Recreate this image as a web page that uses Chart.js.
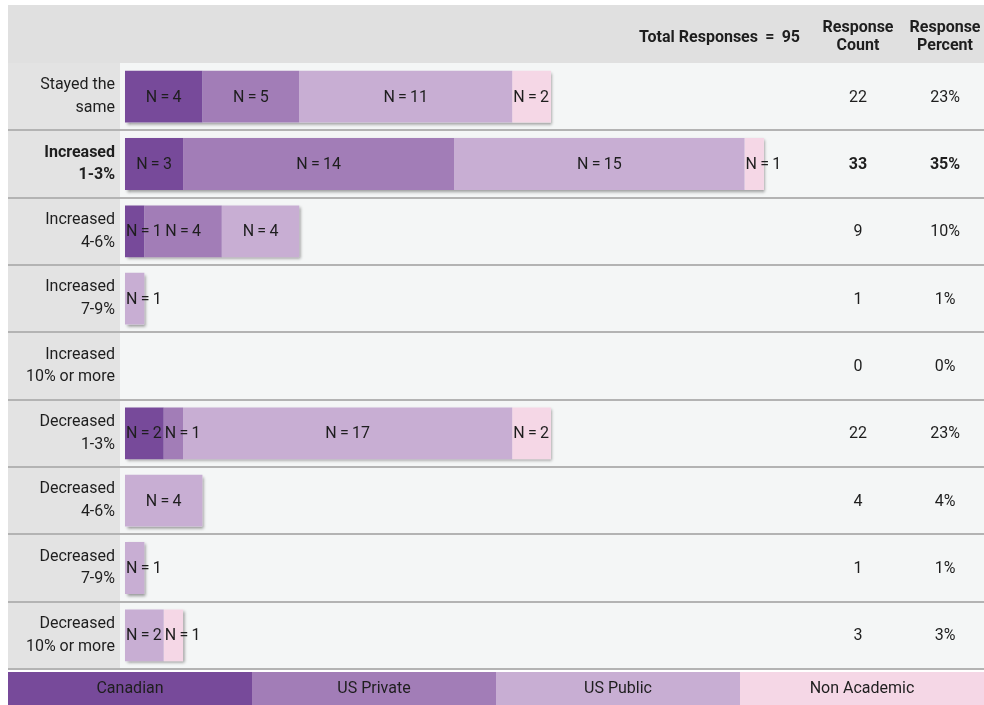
<!DOCTYPE html>
<html>
<head>
<meta charset="utf-8">
<script src="https://cdn.jsdelivr.net/npm/chart.js@4.4.1/dist/chart.umd.min.js"></script>
<style>
  body { margin: 0; background: #ffffff; }
  #wrap { width: 984px; height: 705px; position: relative; }
</style>
</head>
<body>
<div id="wrap"><canvas id="salaryChart"></canvas></div>
<script>
// Categories and series
const categories = [
    ['Stayed the', 'same'],
    ['Increased', '1-3%'],
    ['Increased', '4-6%'],
    ['Increased', '7-9%'],
    ['Increased', '10% or more'],
    ['Decreased', '1-3%'],
    ['Decreased', '4-6%'],
    ['Decreased', '7-9%'],
    ['Decreased', '10% or more']
];
const seriesNames = ['Canadian', 'US Private', 'US Public', 'Non Academic'];
const seriesColors = ['#774a9a', '#a27db7', '#c8aed3', '#f5d7e6'];
const canadian = [4, 3, 1, 0, 0, 2, 0, 0, 0];
const usPrivate = [5, 14, 4, 0, 0, 1, 0, 0, 0];
const usPublic = [11, 15, 4, 1, 0, 17, 4, 1, 2];
const nonAcademic = [2, 1, 0, 0, 0, 2, 0, 0, 1];
const responseCount = [22, 33, 9, 1, 0, 22, 4, 1, 3];
const responsePercent = ['23%', '35%', '10%', '1%', '0%', '23%', '4%', '1%', '3%'];
const totalResponses = 95;
const boldRow = 1;

const FONT = "Roboto, 'Noto Sans', sans-serif";
const SIZE = 16;
const seriesValues = [canadian, usPrivate, usPublic, nonAcademic];

// backgrounds, row lines and bar shadows
const tablePlugin = {
    id: 'tablePlugin',
    beforeDraw(chart) {
        const ctx = chart.ctx;
        const area = chart.chartArea;
        const yScale = chart.scales.y;
        ctx.save();
        ctx.fillStyle = '#e0e0e0';
        ctx.fillRect(8, 5, 976, area.top - 5);
        ctx.fillStyle = '#e3e3e3';
        ctx.fillRect(8, area.top, 112, area.bottom - area.top);
        ctx.fillStyle = '#f4f6f6';
        ctx.fillRect(120, area.top, 864, area.bottom - area.top);
        const rowH = (area.bottom - area.top) / categories.length;
        ctx.strokeStyle = '#b3b3b3';
        ctx.lineWidth = 2;
        categories.forEach((c, i) => {
            const y = Math.round(yScale.getPixelForValue(i) + rowH / 2);
            ctx.beginPath();
            ctx.moveTo(8, y);
            ctx.lineTo(984, y);
            ctx.stroke();
        });
        ctx.restore();
    },
    beforeDatasetsDraw(chart) {
        const ctx = chart.ctx;
        const xScale = chart.scales.x;
        const meta = chart.getDatasetMeta(0);
        ctx.save();
        ctx.shadowColor = 'rgba(0,0,0,0.4)';
        ctx.shadowBlur = 3;
        ctx.shadowOffsetX = 1.5;
        ctx.shadowOffsetY = 2;
        ctx.fillStyle = '#f4f6f6';
        categories.forEach((c, i) => {
            const total = seriesValues.reduce((s, arr) => s + arr[i], 0);
            if (!total) return;
            const el = meta.data[i];
            const x0 = xScale.getPixelForValue(0);
            const x1 = xScale.getPixelForValue(total);
            ctx.fillRect(x0, el.y - el.height / 2, x1 - x0, el.height);
        });
        ctx.restore();
    },
    afterDatasetsDraw(chart) {
        const ctx = chart.ctx;
        ctx.save();
        ctx.font = SIZE + 'px ' + FONT;
        ctx.fillStyle = '#1e1e1e';
        ctx.textBaseline = 'middle';
        chart.data.datasets.forEach((ds, d) => {
            const meta = chart.getDatasetMeta(d);
            meta.data.forEach((el, i) => {
                const v = ds.data[i];
                if (!v) return;
                const left = Math.min(el.x, el.base);
                const right = Math.max(el.x, el.base);
                const txt = 'N\u2009=\u2009' + v;
                const w = ctx.measureText(txt).width;
                if (right - left > w + 8) {
                    ctx.textAlign = 'center';
                    ctx.fillText(txt, (left + right) / 2, el.y + 1);
                } else {
                    ctx.textAlign = 'left';
                    ctx.fillText(txt, left + 1, el.y + 1);
                }
            });
        });
        ctx.restore();
    },
    afterDraw(chart) {
        const ctx = chart.ctx;
        const yScale = chart.scales.y;
        ctx.save();
        ctx.textBaseline = 'middle';
        ctx.fillStyle = '#1e1e1e';
        // header
        ctx.font = 'bold ' + SIZE + 'px ' + FONT;
        ctx.textAlign = 'right';
        ctx.fillText('Total Responses \u2009=\u2009 ' + totalResponses, 800, 38);
        ctx.textAlign = 'center';
        ctx.fillText('Response', 858, 28);
        ctx.fillText('Count', 858, 46);
        ctx.fillText('Response', 945, 28);
        ctx.fillText('Percent', 945, 46);
        // count / percent columns
        categories.forEach((c, i) => {
            const y = yScale.getPixelForValue(i) + 1;
            ctx.font = (i === boldRow ? 'bold ' : '') + SIZE + 'px ' + FONT;
            ctx.fillText(String(responseCount[i]), 858, y);
            ctx.fillText(responsePercent[i], 945, y);
        });
        // legend blocks
        const legTop = chart.chartArea.bottom + 3;
        const legW = (984 - 8) / seriesNames.length;
        seriesNames.forEach((name, k) => {
            ctx.fillStyle = seriesColors[k];
            ctx.fillRect(8 + k * legW, legTop, legW + 0.5, 705 - legTop);
            ctx.fillStyle = '#1e1e1e';
            ctx.font = SIZE + 'px ' + FONT;
            ctx.fillText(name, 8 + k * legW + legW / 2, legTop + 17);
        });
        ctx.restore();
    }
};

const ctx = document.getElementById('salaryChart').getContext('2d');
const salaryChart = new Chart(ctx, {
    type: 'bar',
    data: {
        labels: categories,
        datasets: seriesNames.map((name, k) => ({
            label: name,
            data: seriesValues[k],
            backgroundColor: seriesColors[k],
            borderWidth: 0,
            categoryPercentage: 1,
            barPercentage: 0.77
        }))
    },
    options: {
        indexAxis: 'y',
        responsive: true,
        maintainAspectRatio: false,
        animation: false,
        layout: {
            padding: { left: 8, top: 63, bottom: 36, right: 162 }
        },
        scales: {
            x: {
                stacked: true,
                min: 0,
                max: 36,
                display: false
            },
            y: {
                stacked: true,
                afterFit(scale) { scale.width = 117; },
                grid: { display: false, drawTicks: false },
                border: { display: false },
                ticks: {
                    autoSkip: false,
                    padding: 10,
                    color: '#1e1e1e',
                    font: (c) => ({
                        family: FONT,
                        size: SIZE,
                        lineHeight: 1.4,
                        weight: c.index === boldRow ? 'bold' : 'normal'
                    })
                }
            }
        },
        plugins: {
            legend: { display: false },
            tooltip: { enabled: false }
        }
    },
    plugins: [tablePlugin]
});
</script>
</body>
</html>
